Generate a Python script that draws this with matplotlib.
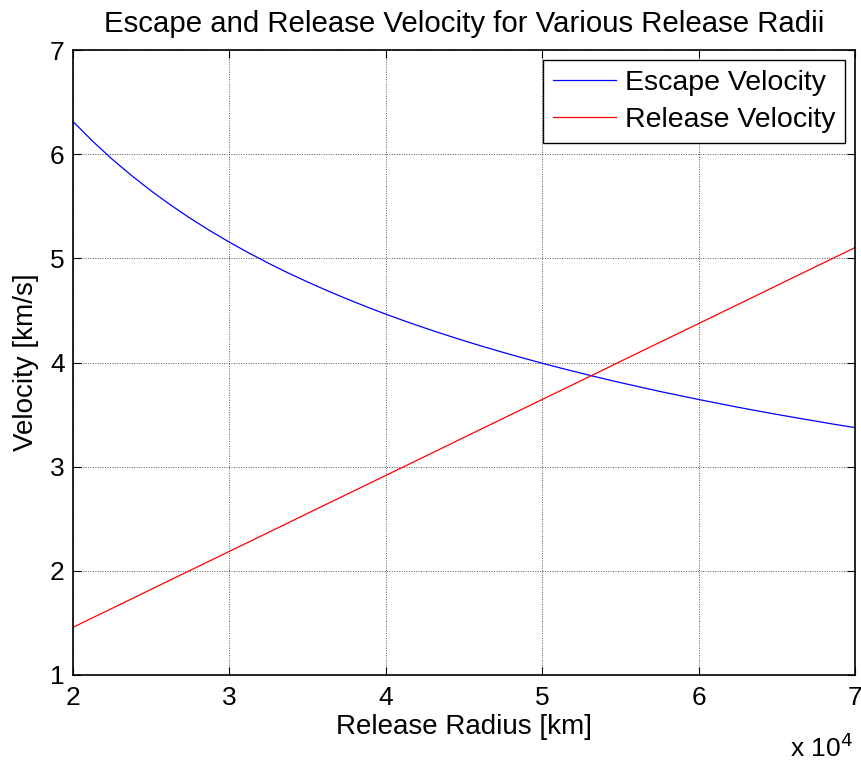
import numpy as np
import matplotlib
matplotlib.use('Agg')
import matplotlib.pyplot as plt

# Radio de liberacion [km]
radius_km = [20000, 21250, 22500, 23750, 25000, 26250, 27500, 28750, 30000,
             31250, 32500, 33750, 35000, 36250, 37500, 38750, 40000, 41250,
             42500, 43750, 45000, 46250, 47500, 48750, 50000, 51250, 52500,
             53750, 55000, 56250, 57500, 58750, 60000, 61250, 62500, 63750,
             65000, 66250, 67500, 68750, 70000]
# Velocidad de escape [km/s]
escape_vel = [6.313, 6.125, 5.952, 5.794, 5.647, 5.511, 5.384, 5.266, 5.155,
              5.051, 4.953, 4.860, 4.773, 4.690, 4.611, 4.536, 4.464, 4.396,
              4.331, 4.269, 4.209, 4.152, 4.097, 4.044, 3.993, 3.944, 3.897,
              3.851, 3.807, 3.765, 3.723, 3.684, 3.645, 3.608, 3.571, 3.536,
              3.502, 3.469, 3.437, 3.405, 3.375]
# Velocidad de liberacion [km/s]
release_vel = [1.458, 1.549, 1.640, 1.731, 1.823, 1.914, 2.005, 2.096, 2.187,
               2.278, 2.369, 2.460, 2.552, 2.643, 2.734, 2.825, 2.916, 3.007,
               3.098, 3.189, 3.281, 3.372, 3.463, 3.554, 3.645, 3.736, 3.827,
               3.918, 4.010, 4.101, 4.192, 4.283, 4.374, 4.465, 4.556, 4.647,
               4.739, 4.830, 4.921, 5.012, 5.103]

plt.rcParams['font.family'] = ['Liberation Sans', 'DejaVu Sans']

fig = plt.figure(figsize=(8.61, 7.63), dpi=100)
ax = fig.add_axes([73 / 861, 1 - 675 / 763, (855 - 73) / 861, (675 - 50) / 763])

ax.plot(radius_km, escape_vel, color='blue', lw=0.9, label='Escape Velocity')
ax.plot(radius_km, release_vel, color='red', lw=0.9, label='Release Velocity')

ax.set_xlim(20000, 70000)
ax.set_ylim(1, 7)
ax.set_xticks(np.arange(20000, 70001, 10000))
ax.set_xticklabels(['2', '3', '4', '5', '6', '7'])
ax.set_yticks(np.arange(1, 8))
ax.grid(True, color='#555555', linestyle=(0, (1, 1.5)), lw=0.7)
ax.tick_params(direction='in', top=True, right=True, labelsize=19, length=6,
               width=0.8)
ax.tick_params(axis='x', pad=8)
ax.tick_params(axis='y', pad=6)
for s in ax.spines.values():
    s.set_linewidth(1.2)

ax.set_title('Escape and Release Velocity for Various Release Radii',
             fontsize=21.2, pad=13)
ax.set_xlabel('Release Radius [km]', fontsize=20, labelpad=3)
ax.set_ylabel('Velocity [km/s]', fontsize=20, labelpad=8)
fig.text(853 / 861, 1 - 748 / 763, r'x 10$^{4}$', fontsize=19, ha='right',
         va='center')

leg = ax.legend(loc='upper right', fontsize=20.5, fancybox=False, framealpha=1,
                edgecolor='black', borderpad=0.35, handlelength=2.2,
                handletextpad=0.3, labelspacing=0.4, borderaxespad=0.35)
leg.get_frame().set_linewidth(1.0)

plt.savefig('out.png', dpi=100)
